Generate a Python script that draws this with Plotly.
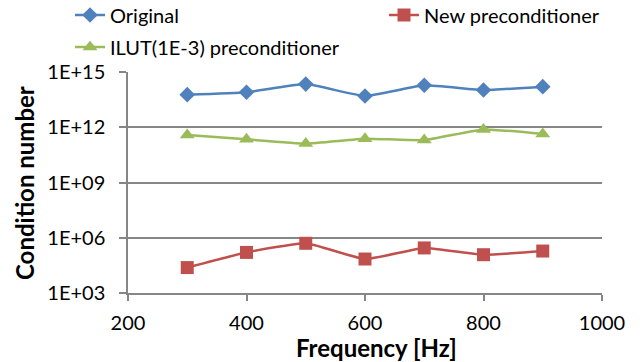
import plotly.graph_objects as go

freq = [300, 400, 500, 600, 700, 800, 900]
original = [5.9e13, 8.0e13, 2.2e14, 5.0e13, 1.9e14, 1.05e14, 1.6e14]
new_prec = [2.4e4, 1.6e5, 5.0e5, 7.0e4, 2.8e5, 1.2e5, 1.9e5]
ilut = [3.8e11, 2.2e11, 1.3e11, 2.4e11, 2.0e11, 7.6e11, 4.3e11]

y_tickvals = [1e3, 1e6, 1e9, 1e12, 1e15]
y_ticktext = ["1E+03", "1E+06", "1E+09", "1E+12", "1E+15"]
x_tickvals = [200, 400, 600, 800, 1000]

FONT = "Lato, Carlito, Calibri, sans-serif"
W, H = 642, 362
L, R, T, B = 128, 40, 72, 69
PW, PH = W - L - R, H - T - B

fig = go.Figure()
fig.add_trace(go.Scatter(x=freq, y=original, name="Original", mode="lines+markers",
                         legend="legend2",
                         line=dict(color="#4F81BD", width=2.5, shape="spline", smoothing=0.4),
                         marker=dict(symbol="diamond", size=12, color="#4F81BD")))
fig.add_trace(go.Scatter(x=freq, y=new_prec, name="New preconditioner", mode="lines+markers",
                         legend="legend3",
                         line=dict(color="#C0504D", width=2.5, shape="spline", smoothing=0.4),
                         marker=dict(symbol="square", size=13, color="#C0504D")))
fig.add_trace(go.Scatter(x=freq, y=ilut, name="ILUT(1E-3) preconditioner", mode="lines+markers",
                         legend="legend4",
                         line=dict(color="#9BBB59", width=2.5, shape="spline", smoothing=0.4),
                         marker=dict(symbol="triangle-up", size=13, color="#9BBB59")))


def leg(xpx, ypx):
    return dict(orientation="h", xref="container", yref="container",
                x=xpx / W, xanchor="left", y=1 - ypx / H, yanchor="middle",
                font=dict(size=20), bgcolor="rgba(0,0,0,0)")


fig.update_layout(
    width=W, height=H,
    showlegend=True,
    margin=dict(l=L, r=R, t=T, b=B, autoexpand=False),
    paper_bgcolor="white", plot_bgcolor="white",
    font=dict(family=FONT, size=20, color="black"),
    legend2=leg(70, 15),
    legend3=leg(384, 15),
    legend4=leg(70, 47),
    xaxis=dict(range=[200, 1000], tickvals=x_tickvals, showgrid=False, automargin=False,
               showline=True, linecolor="#868686", linewidth=1.5,
               ticks="outside", ticklen=6, tickcolor="#868686", tickwidth=1.5,
               ticklabelstandoff=5, tickfont=dict(size=20)),
    yaxis=dict(type="log", range=[3, 15], tickvals=y_tickvals, ticktext=y_ticktext,
               automargin=False,
               showgrid=True, gridcolor="#868686", gridwidth=1.5,
               showline=True, linecolor="#868686", linewidth=1.5,
               ticks="outside", ticklen=7, tickcolor="#868686", tickwidth=1.5,
               ticklabelstandoff=10, tickfont=dict(size=20)),
    annotations=[
        dict(text="<b>Frequency [Hz]</b>", xref="paper", yref="paper",
             x=(376 - L) / PW, y=(T + PH - 347) / PH, xanchor="center", yanchor="middle",
             showarrow=False, font=dict(size=24)),
        dict(text="<b>Condition number</b>", xref="paper", yref="paper",
             x=(24 - L) / PW, y=(T + PH - 183) / PH, xanchor="center", yanchor="middle",
             textangle=-90, showarrow=False, font=dict(size=24)),
    ],
)

fig.write_html("out.html", config={"displayModeBar": False},
               post_script="document.body.style.margin='0';")
